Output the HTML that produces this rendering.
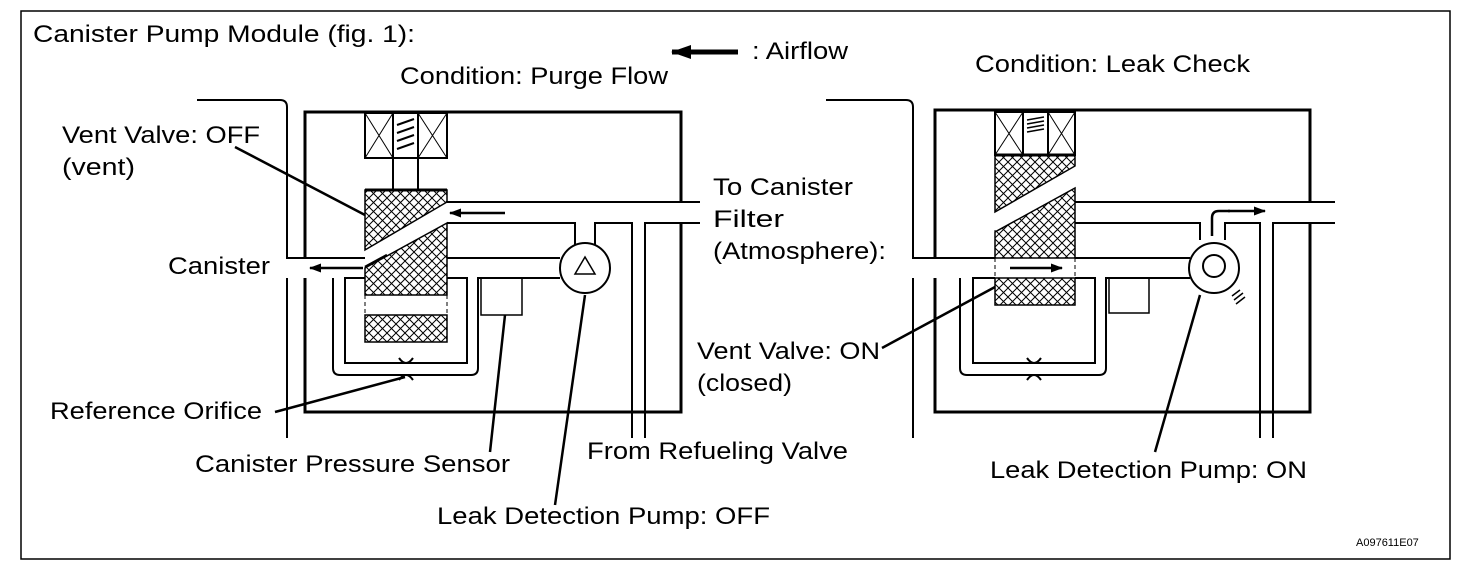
<!DOCTYPE html>
<html><head><style>
body{margin:0;background:#fff}
svg{display:block}
text{font-family:"Liberation Sans",Arial,sans-serif;font-size:24px;fill:#000}
</style></head><body>
<svg width="1472" height="578" viewBox="0 0 1472 578" xmlns="http://www.w3.org/2000/svg">
<defs>
<pattern id="h" width="9" height="9" patternUnits="userSpaceOnUse">
<path d="M0 0L9 9M9 0L0 9" stroke="#000" stroke-width="1"/>
</pattern>
<marker id="a" markerWidth="12" markerHeight="9" refX="11" refY="4.5" orient="auto" markerUnits="userSpaceOnUse"><path d="M0 0L12 4.5L0 9z"/></marker>
<marker id="b" markerWidth="20" markerHeight="14" refX="19" refY="7" orient="auto" markerUnits="userSpaceOnUse"><path d="M0 0L20 7L0 14z"/></marker>
</defs>
<rect x="21" y="11" width="1429" height="548" fill="none" stroke="#000" stroke-width="1.5"/>
<text x="33" y="42" textLength="382" lengthAdjust="spacingAndGlyphs">Canister Pump Module (fig. 1):</text>
<line x1="738" y1="52" x2="672" y2="52" stroke="#000" stroke-width="5" marker-end="url(#b)"/>
<text x="752" y="59" textLength="96" lengthAdjust="spacingAndGlyphs">: Airflow</text>
<text x="400" y="84" textLength="268" lengthAdjust="spacingAndGlyphs">Condition: Purge Flow</text>
<text x="975" y="72" textLength="275" lengthAdjust="spacingAndGlyphs">Condition: Leak Check</text>

<!-- LEFT DIAGRAM -->
<g fill="none" stroke="#000">
<path d="M305 202V112H681V202M681 223V412H305V278M305 258V202" stroke-width="3"/>
<path d="M197 100H280Q287 100 287 107V258H365M287 278V438" stroke-width="2"/>
<path d="M447 202H700M447 223H575V245M595 245V223H632V438M645 438V223H700" stroke-width="2"/>
<path d="M447 258H560M447 278H467V363H345V278H365M333 278V368Q333 375 340 375H471Q478 375 478 368V278H560" stroke-width="2"/>
<rect x="481" y="278" width="41" height="37" stroke-width="1.5"/>
<circle cx="585" cy="268" r="25" stroke-width="2"/>
<path d="M585 257L575 274H595Z" stroke-width="1.5"/>
<rect x="365" y="113" width="28" height="45" stroke-width="2"/>
<path d="M365 113L393 158M393 113L365 158M418 113L447 158M447 113L418 158" stroke-width="1"/>
<rect x="418" y="113" width="29" height="45" stroke-width="2"/>
<rect x="393" y="113" width="25" height="45" stroke-width="2"/>
<path d="M397 125L414 119M397 133L414 127M397 141L414 135M397 149L414 143" stroke-width="2"/>
<path d="M393 158V190M418 158V190" stroke-width="2"/>
<path d="M365 190H447V202L365 250Z" fill="url(#h)" stroke-width="1.5"/>
<path d="M447 223V295H365V268Z" fill="url(#h)" stroke-width="1.5"/>
<path d="M365 190H447" stroke-width="3"/>
<path d="M365 295V315M447 295V315" stroke-dasharray="4 3"/>
<rect x="365" y="315" width="82" height="27" fill="url(#h)" stroke-width="1.5"/>
<path d="M399 358Q406 368 413 358M399 380Q406 370 413 380" stroke-width="2"/>
<path d="M235 147L365 215M275 412L405 377M505 315L490 452M585 295L555 505" stroke-width="2.5"/>
</g>
<line x1="505" y1="213" x2="450" y2="213" stroke="#000" stroke-width="2.5" marker-end="url(#a)"/>
<line x1="363" y1="268" x2="310" y2="268" stroke="#000" stroke-width="2.5" marker-end="url(#a)"/>
<line x1="387" y1="255" x2="365" y2="267" stroke="#000" stroke-width="2.5"/>
<text x="62" y="143" textLength="198" lengthAdjust="spacingAndGlyphs">Vent Valve: OFF</text>
<text x="62" y="175" textLength="73" lengthAdjust="spacingAndGlyphs">(vent)</text>
<text x="168" y="274" textLength="102" lengthAdjust="spacingAndGlyphs">Canister</text>
<text x="50" y="419" textLength="212" lengthAdjust="spacingAndGlyphs">Reference Orifice</text>
<text x="195" y="472" textLength="315" lengthAdjust="spacingAndGlyphs">Canister Pressure Sensor</text>
<text x="437" y="524" textLength="333" lengthAdjust="spacingAndGlyphs">Leak Detection Pump: OFF</text>
<text x="587" y="459" textLength="261" lengthAdjust="spacingAndGlyphs">From Refueling Valve</text>
<text x="713" y="195" textLength="140" lengthAdjust="spacingAndGlyphs">To Canister</text>
<text x="713" y="227" textLength="71" lengthAdjust="spacingAndGlyphs">Filter</text>
<text x="713" y="259" textLength="173" lengthAdjust="spacingAndGlyphs">(Atmosphere):</text>
<text x="697" y="359" textLength="183" lengthAdjust="spacingAndGlyphs">Vent Valve: ON</text>
<text x="697" y="391" textLength="95" lengthAdjust="spacingAndGlyphs">(closed)</text>
<text x="990" y="478" textLength="317" lengthAdjust="spacingAndGlyphs">Leak Detection Pump: ON</text>

<!-- RIGHT DIAGRAM -->
<g fill="none" stroke="#000">
<path d="M935 202V110H1310V202M1310 223V412H935V278M935 258V202" stroke-width="3"/>
<path d="M826 100H906Q913 100 913 107V258H995M913 278V438" stroke-width="2"/>
<path d="M1075 202H1335M1075 223H1200V240M1225 240V223H1260V438M1273 438V223H1335" stroke-width="2"/>
<path d="M1075 258H1190M1075 278H1095V363H973V278H995M960 278V368Q960 375 967 375H1099Q1106 375 1106 368V278H1190" stroke-width="2"/>
<rect x="1109" y="278" width="40" height="35" stroke-width="1.5"/>
<circle cx="1214" cy="268" r="25" stroke-width="2"/>
<circle cx="1214" cy="266" r="11" stroke-width="2"/>
<path d="M1232 296L1240 290M1234 300L1243 293M1236 304L1245 297" stroke-width="1.5"/>
<rect x="995" y="112" width="28" height="43" stroke-width="2"/>
<rect x="1048" y="112" width="27" height="43" stroke-width="2"/>
<rect x="1023" y="112" width="25" height="43" stroke-width="2"/>
<path d="M995 112L1023 155M1023 112L995 155M1048 112L1075 155M1075 112L1048 155" stroke-width="1"/>
<path d="M1027 120L1044 117M1027 124L1044 121M1027 128L1044 125M1027 132L1044 129" stroke-width="1.5"/>
<path d="M995 155H1075V166L995 212Z" fill="url(#h)" stroke-width="1.5"/>
<path d="M1075 188V258H995V232Z" fill="url(#h)" stroke-width="1.5"/>
<path d="M995 155H1075" stroke-width="3"/>
<path d="M995 230V278M1075 230V278" stroke-dasharray="4 3"/>
<rect x="995" y="278" width="80" height="27" fill="url(#h)" stroke-width="1.5"/>
<path d="M1027 358Q1034 368 1041 358M1027 380Q1034 370 1041 380" stroke-width="2"/>
<path d="M882 348L995 287M1200 295L1155 452" stroke-width="2.5"/>
<path d="M1212 236V218Q1212 211 1219 211H1230" stroke-width="2.5"/>
</g>
<line x1="1010" y1="268" x2="1062" y2="268" stroke="#000" stroke-width="2.5" marker-end="url(#a)"/>
<line x1="1228" y1="211" x2="1265" y2="211" stroke="#000" stroke-width="2.5" marker-end="url(#a)"/>
<text x="1356" y="546" style="font-size:11px">A097611E07</text>
</svg>
</body></html>
